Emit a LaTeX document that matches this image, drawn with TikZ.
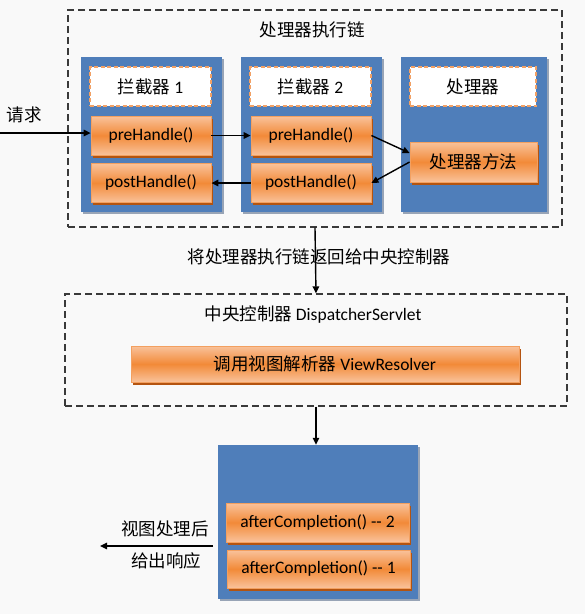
\documentclass[tikz,border=0pt]{standalone}
\usepackage{fontspec}
\setmainfont{Carlito}
\newfontfamily\cjk{Noto Sans CJK SC}
\usetikzlibrary{arrows.meta,shadows}

\definecolor{pagebg}{HTML}{F9F9F9}
\definecolor{colblue}{HTML}{4F7EBA}
\definecolor{colshade}{HTML}{98A4B6}
\definecolor{boxmid}{HTML}{F28A38}
\definecolor{boxlight}{HTML}{F9C29B}
\definecolor{boxline}{HTML}{F3A060}
\definecolor{boxshade}{HTML}{B45410}
\definecolor{namedash}{HTML}{F2A165}
\definecolor{linegray}{HTML}{3A3A3A}

\newcommand{\zh}[1]{{\cjk #1}}

\begin{document}
\begin{tikzpicture}[x=1pt, y=-1pt,
        font=\fontsize{17.5}{20}\selectfont,
        chainbox/.style={draw=linegray, line width=1.3pt, dash pattern=on 7pt off 4pt},
        colbox/.style={fill=colblue, inner sep=0pt,
            drop shadow={shadow xshift=2pt, shadow yshift=-2pt, fill=colshade, opacity=1}},
        namebox/.style={fill=white, draw=namedash, line width=1.3pt, dash pattern=on 4pt off 2.5pt,
            minimum width=121pt, minimum height=39pt},
        callbox/.style={top color=boxlight, bottom color=boxlight, middle color=boxmid, draw=boxline,
            line width=0.8pt, minimum height=39pt, inner sep=2pt,
            drop shadow={shadow xshift=2pt, shadow yshift=-2.5pt, fill=boxshade, opacity=1}},
        flow/.style={-{Triangle[length=7pt, width=6.5pt]}, line width=1.4pt, black}
    ]
        \fill[pagebg] (0, 0) rectangle (585, 614);
        \useasboundingbox (0, 0) rectangle (585, 614);

        % handler execution chain
        \node[chainbox, minimum width=494pt, minimum height=217pt] (chain) at (315, 118.5) {};
        \node (chain title) at (312, 30) {\zh{处理器执行链}};

        \node[colbox, minimum width=141pt, minimum height=155pt] (col1) at (151.5, 134.5) {};
        \node[colbox, minimum width=141pt, minimum height=155pt] (col2) at (311.5, 134.5) {};
        \node[colbox, minimum width=146pt, minimum height=155pt] (col3) at (474, 134.5) {};

        \node[namebox] (name1) at (150.5, 86.5) {\zh{拦截器} 1};
        \node[namebox] (name2) at (310.5, 86.5) {\zh{拦截器} 2};
        \node[namebox, minimum width=126pt] (name3) at (473, 86.5) {\zh{处理器}};

        \node[callbox, minimum width=120pt] (pre1) at (151, 135.5) {preHandle()};
        \node[callbox, minimum width=120pt] (pre2) at (311, 135.5) {preHandle()};
        \node[callbox, minimum width=120pt] (post1) at (151, 183) {postHandle()};
        \node[callbox, minimum width=120pt] (post2) at (311, 183) {postHandle()};
        \node[callbox, minimum width=127pt, minimum height=40pt] (method) at (473.5, 162) {\zh{处理器方法}};

        \node (request) at (24, 115) {\zh{请求}};
        \coordinate (request in) at (0, 133);
        \draw[flow] (request in) -- (request in -| pre1.west);
        \draw[flow] (pre1.east) -- (pre2.west);
        \draw[flow] (pre2.east) -- (method.172);
        \draw[flow] (method.west) -- (post2.east);
        \draw[flow] (post2.west) -- (post1.east);

        % dispatcher
        \node[chainbox, minimum width=502pt, minimum height=112pt] (disp) at (316, 350) {};
        \node (disp title) at (313, 315) {\zh{中央控制器} DispatcherServlet};
        \node[callbox, minimum width=388pt, minimum height=36pt] (resolver) at (325, 364) {\zh{调用视图解析器} ViewResolver};

        \draw[flow] (chain.south) -- (disp.north);
        \node (return label) at (319, 257) {\zh{将处理器执行链返回给中央控制器}};

        % completion
        \node[colbox, minimum width=200pt, minimum height=154pt] (final) at (318, 522) {};
        \node[callbox, minimum width=183pt] (after2) at (317.5, 522.5) {afterCompletion() -{}- 2};
        \node[callbox, minimum width=183pt, minimum height=38pt] (after1) at (318.5, 569) {afterCompletion() -{}- 1};
        \draw[flow] (disp.south) -- (disp.south |- final.north);

        \coordinate (response out) at (213, 546);
        \coordinate (response end) at (100, 546);
        \draw[flow] (response out) -- (response end);
        \node (response top) at (165, 529) {\zh{视图处理后}};
        \node (response bottom) at (166, 561) {\zh{给出响应}};
    \end{tikzpicture}
\end{document}
